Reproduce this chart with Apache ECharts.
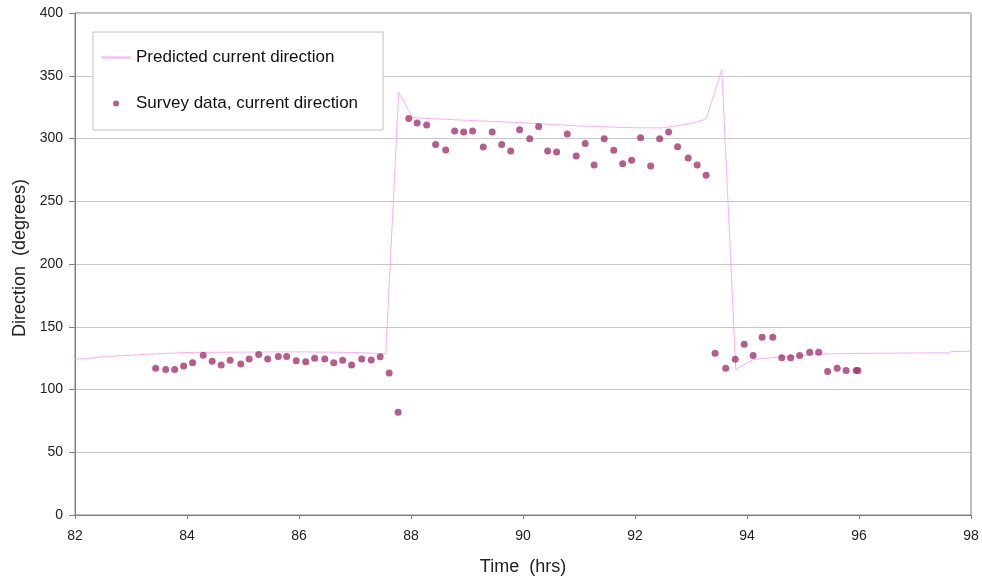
<!DOCTYPE html>
<html>
<head>
<meta charset="utf-8">
<script src="https://cdn.jsdelivr.net/npm/echarts@6/dist/echarts.min.js"></script>
<style>
html,body{margin:0;padding:0;background:#fff;}
#chart{width:982px;height:581px;}
</style>
</head>
<body>
<div id="chart"></div>
<script>
// Survey data (time in hrs, direction in degrees)
const surveyTime = [83.44,83.62,83.78,83.94,84.10,84.29,84.45,84.61,84.77,84.96,85.11,85.28,85.44,85.63,85.78,85.95,86.12,86.28,86.46,86.62,86.78,86.94,87.12,87.29,87.45,87.61,87.77,
  87.96,88.11,88.28,88.44,88.62,88.78,88.94,89.10,89.29,89.45,89.62,89.78,89.94,90.12,90.28,90.44,90.60,90.79,90.95,91.11,91.27,91.45,91.62,91.78,91.94,92.10,92.28,92.44,92.60,92.76,92.95,93.11,93.27,
  93.43,93.62,93.79,93.95,94.11,94.27,94.46,94.62,94.78,94.94,95.12,95.28,95.44,95.61,95.77,95.95,95.98];
const surveyDir = [116.9,115.9,115.9,118.8,121.4,127.2,122.5,119.6,123.3,120.4,124.4,127.8,124.4,126.2,126.2,123.0,122.2,124.9,124.4,121.4,123.3,119.6,124.4,123.6,126.0,113.2,81.9,
  316.0,312.3,310.7,295.3,290.8,305.9,305.1,305.9,293.2,305.1,295.3,290.0,306.9,299.8,309.6,290.0,289.2,303.5,286.0,296.1,278.9,299.8,290.6,279.9,282.6,300.6,278.1,299.8,305.1,293.4,284.4,278.9,270.7,
  128.8,116.9,124.1,136.0,127.0,141.6,141.6,125.2,125.2,127.0,129.6,129.6,114.3,116.9,115.1,115.1,115.1];

// Predicted current direction
const predTime = [82.0,82.6,83.4,84.0,85.0,86.0,87.0,87.55,87.78,88.03,89.0,90.0,91.0,92.0,92.5,93.0,93.27,93.55,93.80,94.1,94.52,95.41,96.0,97.6,97.65,98.0];
const predDir  = [124.0,126.4,128.3,129.5,129.8,130.0,129.5,128.5,336.7,316.5,314.5,312.5,310.0,308.5,308.5,312.0,315.4,355.0,115.8,123.8,125.6,128.3,128.8,129.3,130.2,130.5];

const xTicks = {min: 82, max: 98, interval: 2};
const yTicks = {min: 0, max: 400, interval: 50};

const survey = surveyTime.map((t, i) => [t, surveyDir[i]]);
const pred = predTime.map((t, i) => [t, predDir[i]]);

const chart = echarts.init(document.getElementById('chart'));
const font = 'Liberation Sans, Arial, sans-serif';
chart.setOption({
  animation: false,
  backgroundColor: '#fff',
  textStyle: {fontFamily: font},
  grid: {left: 75, right: 11, top: 13, bottom: 65, show: true, borderColor: '#808080', borderWidth: 1},
  legend: {
    orient: 'vertical',
    left: 93, top: 32,
    padding: [17, 25, 18, 7],
    itemGap: 29,
    itemWidth: 30, itemHeight: 6,
    backgroundColor: '#fff',
    borderColor: '#c0c0c0', borderWidth: 1,
    textStyle: {fontFamily: font, fontSize: 17, color: '#111'},
    data: [
      {name: 'Predicted current direction', itemStyle: {opacity: 0}},
      {name: 'Survey data, current direction', icon: 'circle'}
    ]
  },
  xAxis: {
    type: 'value', min: xTicks.min, max: xTicks.max, interval: xTicks.interval,
    name: 'Time  (hrs)', nameLocation: 'middle', nameGap: 43,
    nameTextStyle: {fontFamily: font, fontSize: 18, color: '#222'},
    axisLine: {lineStyle: {color: '#808080'}},
    axisTick: {show: true, length: 4, lineStyle: {color: '#808080'}},
    axisLabel: {fontFamily: font, fontSize: 14, color: '#222', margin: 14},
    splitLine: {show: false}
  },
  yAxis: {
    type: 'value', min: yTicks.min, max: yTicks.max, interval: yTicks.interval,
    name: 'Direction  (degrees)', nameLocation: 'middle', nameGap: 46,
    nameTextStyle: {fontFamily: font, fontSize: 18, color: '#222', padding: [0, 0, 0, 12]},
    axisLine: {show: true, lineStyle: {color: '#808080'}},
    axisTick: {show: true, length: 6, lineStyle: {color: '#808080'}},
    axisLabel: {fontFamily: font, fontSize: 14, color: '#222', margin: 12},
    splitLine: {show: true, lineStyle: {color: '#c8c8c8', width: 1}}
  },
  series: [
    {
      name: 'Predicted current direction', type: 'line', data: pred,
      symbol: 'none', lineStyle: {color: '#ffaaff', width: 1}, itemStyle: {color: '#ffaaff'},
      z: 2
    },
    {
      name: 'Survey data, current direction', type: 'scatter', data: survey,
      symbol: 'circle', symbolSize: 7, itemStyle: {color: '#a2356f'}, z: 3
    }
  ]
});
</script>
</body>
</html>
